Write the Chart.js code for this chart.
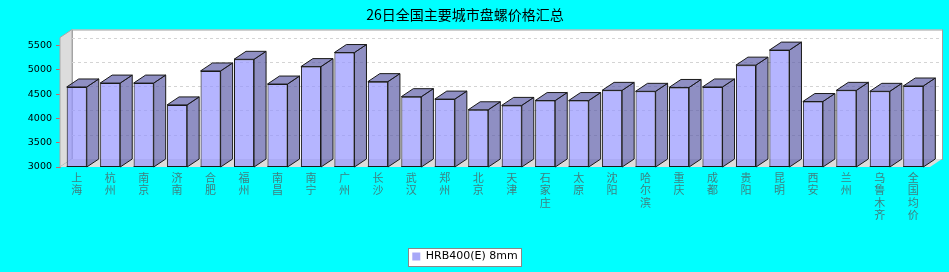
<!DOCTYPE html>
<html>
<head>
<meta charset="utf-8">
<script src="https://cdn.jsdelivr.net/npm/chart.js@4"></script>
<style>
  body { margin: 0; background: #00ffff; }
  canvas { display: block; background: #00ffff; }
</style>
</head>
<body>
<canvas id="priceChart" width="949" height="272"></canvas>
<script>
const chartTitle = "26日全国主要城市盘螺价格汇总";
const seriesName = "HRB400(E) 8mm";
const cities = ["上海", "杭州", "南京", "济南", "合肥", "福州", "南昌", "南宁", "广州", "长沙",
  "武汉", "郑州", "北京", "天津", "石家庄", "太原", "沈阳", "哈尔滨", "重庆", "成都",
  "贵阳", "昆明", "西安", "兰州", "乌鲁木齐", "全国均价"];
const prices = [4650, 4730, 4730, 4280, 4980, 5220, 4710, 5070, 5360, 4760,
  4450, 4400, 4180, 4270, 4370, 4370, 4580, 4560, 4640, 4650,
  5100, 5410, 4350, 4580, 4560, 4670];
const yTicks = [3000, 3500, 4000, 4500, 5000, 5500];

// depth of the fake 3d effect
const DX = 12;
const DY = 8;

function poly(ctx, pts, fill, stroke) {
  ctx.beginPath();
  ctx.moveTo(pts[0][0], pts[0][1]);
  for (let i = 1; i < pts.length; i++) ctx.lineTo(pts[i][0], pts[i][1]);
  ctx.closePath();
  if (fill) { ctx.fillStyle = fill; ctx.fill(); }
  if (stroke) { ctx.strokeStyle = stroke; ctx.stroke(); }
}

const box3d = {
  id: "box3d",
  beforeDraw(chart) {
    const { ctx } = chart;
    const hb = chart.legend && chart.legend.legendHitBoxes[0];
    if (!hb) return;
    ctx.save();
    ctx.fillStyle = "#ffffff";
    ctx.strokeStyle = "#888888";
    ctx.lineWidth = 1;
    const x0 = Math.round(hb.left - 4) + 0.5, y0 = Math.round(hb.top - 3) + 0.5;
    const w = Math.round(hb.width + 8), h = Math.round(hb.height + 7);
    ctx.fillRect(x0, y0, w, h);
    ctx.strokeRect(x0, y0, w, h);
    ctx.restore();
  },
  beforeDatasetsDraw(chart) {
    const { ctx, chartArea: a, scales } = chart;
    const y = scales.y;
    ctx.save();
    ctx.lineWidth = 1;
    // back wall
    ctx.fillStyle = "#ffffff";
    ctx.fillRect(a.left + DX, a.top - DY, a.right - a.left, a.bottom - a.top);
    ctx.strokeStyle = "#a0a0a0";
    ctx.strokeRect(a.left + DX + 0.5, a.top - DY + 0.5, a.right - a.left, a.bottom - a.top);
    // left wall and floor
    poly(ctx, [[a.left, a.top], [a.left + DX, a.top - DY], [a.left + DX, a.bottom - DY], [a.left, a.bottom]], "#dcdcdc", "#a8a8a8");
    poly(ctx, [[a.left, a.bottom], [a.left + DX, a.bottom - DY], [a.right + DX, a.bottom - DY], [a.right, a.bottom]], "#dcdcdc", null);
    // grid lines on the back wall
    ctx.setLineDash([3, 3]);
    ctx.strokeStyle = "#d4d4d4";
    yTicks.forEach((v) => {
      if (v === y.min) return;
      const py = Math.round(y.getPixelForValue(v) - DY) + 0.5;
      ctx.beginPath();
      ctx.moveTo(a.left + DX, py);
      ctx.lineTo(a.right + DX, py);
      ctx.stroke();
    });
    ctx.setLineDash([]);
    // top and side faces of the bars
    chart.getDatasetMeta(0).data.forEach((bar) => {
      const p = bar.getProps(["x", "y", "base", "width"], true);
      const l = p.x - p.width / 2, r = p.x + p.width / 2;
      const b = Math.min(p.base, a.bottom);
      poly(ctx, [[r, p.y], [r + DX, p.y - DY], [r + DX, b - DY], [r, b]], "rgba(96,96,170,0.7)", "#1a1a1a");
      poly(ctx, [[l, p.y], [l + DX, p.y - DY], [r + DX, p.y - DY], [r, p.y]], "rgba(96,96,170,0.7)", "#1a1a1a");
    });
    ctx.restore();
  },
  afterDatasetsDraw(chart) {
    // bottom edge of each front face (clipped away by the chart area)
    const { ctx, chartArea: a } = chart;
    ctx.save();
    ctx.strokeStyle = "#1a1a1a";
    ctx.lineWidth = 1;
    chart.getDatasetMeta(0).data.forEach((bar) => {
      const p = bar.getProps(["x", "width"], true);
      ctx.beginPath();
      ctx.moveTo(p.x - p.width / 2, a.bottom - 0.5);
      ctx.lineTo(p.x + p.width / 2, a.bottom - 0.5);
      ctx.stroke();
    });
    ctx.restore();
  },
};

new Chart(document.getElementById("priceChart"), {
  type: "bar",
  data: {
    labels: cities,
    datasets: [
      {
        label: seriesName,
        data: prices,
        backgroundColor: "rgba(150,150,255,0.7)",
        borderColor: "#1a1a1a",
        borderWidth: 1,
        categoryPercentage: 1,
        barPercentage: 0.6,
      },
    ],
  },
  options: {
    responsive: false,
    animation: false,
    layout: { padding: { left: 0, right: 19, top: 0, bottom: 0 } },
    plugins: {
      title: {
        display: true,
        text: chartTitle,
        color: "#000000",
        font: { family: "'Noto Sans CJK SC'", size: 14, weight: "normal", lineHeight: 1.2 },
        padding: { top: 6, bottom: 14.7 },
      },
      legend: {
        position: "bottom",
        labels: {
          boxWidth: 8,
          boxHeight: 8,
          padding: 2,
          color: "#000000",
          font: { family: "'DejaVu Sans'", size: 11 },
          generateLabels: (chart) =>
            Chart.defaults.plugins.legend.labels.generateLabels(chart).map((l) => ({
              ...l,
              fillStyle: "#a8a8f8",
              strokeStyle: "#a8a8f8",
              lineWidth: 0,
            })),
        },
      },
      tooltip: { enabled: false },
    },
    scales: {
      x: {
        grid: { display: false, drawTicks: false },
        border: { display: false },
        ticks: {
          autoSkip: false,
          maxRotation: 0,
          padding: 4,
          color: "#3f7f7f",
          font: { family: "'Noto Sans CJK SC'", size: 11, lineHeight: 1.15 },
          callback: (v, i) => cities[i].split(""),
        },
        afterFit: (scale) => { scale.height = 82; },
      },
      y: {
        min: 3000,
        max: 5670,
        afterBuildTicks: (scale) => { scale.ticks = yTicks.map((v) => ({ value: v })); },
        grid: { display: true, drawOnChartArea: false, drawTicks: true, tickLength: 4, color: "#c86464" },
        border: { display: true, color: "#909090" },
        ticks: {
          padding: 4,
          color: "#000000",
          font: { family: "'DejaVu Sans'", size: 9.5 },
          callback: (v) => String(v),
        },
        afterFit: (scale) => { scale.width = 60; },
      },
    },
  },
  plugins: [box3d],
});
</script>
</body>
</html>
